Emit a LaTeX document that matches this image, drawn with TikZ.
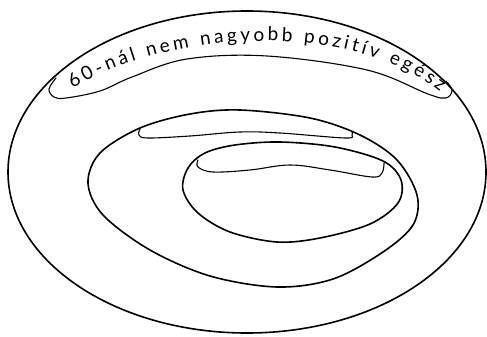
\documentclass[tikz,border=0pt]{standalone}
\usepackage{fontspec}
\newfontfamily\hand{Lato}
\usetikzlibrary{decorations.text}
\tikzset{
  setline/.style={line width=1.6pt, line join=round},
  bandline/.style={line width=1.1pt, line cap=round, line join=round},
}
\begin{document}
\begin{tikzpicture}[x=1pt,y=-1pt]
\useasboundingbox (0,0) rectangle (487,337);
% outer set
\draw[setline] (247,172) ellipse [x radius=239, y radius=161];
\draw[bandline] plot[smooth, tension=0.6] coordinates {(56,78) (49,89) (54,97) (66,98) (100,91) (132,77) (187,59) (267,56) (367,70) (428,94) (446,98) (452,90) (446,81)};
% text label
\path[decorate, decoration={text along path, text align=fit to path,
  text={|\hand\fontsize{19}{19}\selectfont|60-nál nem nagyobb pozitív egész}}]
  (73,89) .. controls (150,38) and (338,12) .. (440,92);
% middle set
\draw[setline] plot[smooth cycle, tension=0.55] coordinates {(240,110) (310,118) (360,135) (397,160) (417,195) (413,225) (383,252) (333,279) (277,287) (210,276) (150,250) (103,215) (88,183) (100,153) (140,128) (190,114)};
\draw[bandline] plot[smooth, tension=0.6] coordinates {(140,129) (139,135) (148,138) (190,136) (240,132) (280,133) (345,138) (352,135) (352,132)};
% inner set
\draw[setline] plot[smooth cycle, tension=0.55] coordinates {(280,142) (335,147) (383,161) (401,180) (398,203) (370,224) (320,238) (277,242) (230,232) (198,213) (183,190) (188,168) (205,153) (235,145)};
\draw[bandline] plot[smooth, tension=0.6] coordinates {(198,160) (198,167) (213,172) (250,170) (290,165) (330,170) (372,177) (382,173) (384,163)};
\end{tikzpicture}
\end{document}
